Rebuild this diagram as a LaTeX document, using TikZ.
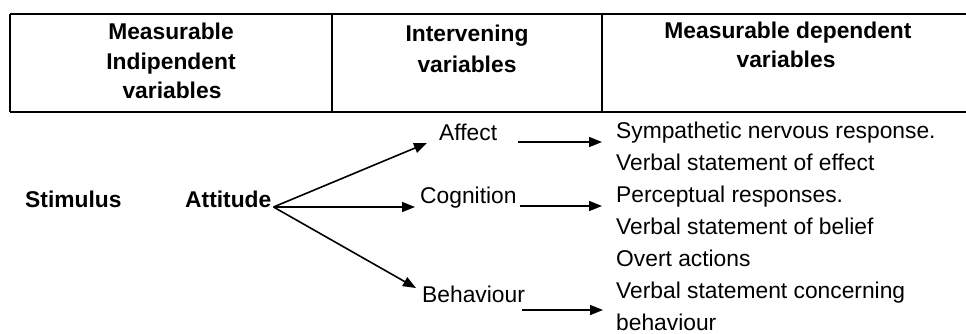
\documentclass[tikz,border=0pt]{standalone}
\usepackage{fontspec}
\setmainfont{Liberation Sans}
\usetikzlibrary{arrows.meta,calc}
\begin{document}
\begin{tikzpicture}[x=1pt,y=-1pt,
  txt/.style={inner sep=0pt, anchor=base west, font=\fontsize{22.8}{27}\selectfont},
  lbl/.style={inner sep=0pt, anchor=base west, font=\fontsize{22.8}{27}\selectfont\bfseries},
  hdr/.style={inner sep=0pt, anchor=base, font=\fontsize{22.8}{27}\selectfont\bfseries},
  rule/.style={line width=1.6pt},
  arr/.style={line width=1.6pt, -{Triangle[length=13pt,width=10pt]}}]
\useasboundingbox (0,0) rectangle (966,333);
% table frame
\draw[rule] (10,14) -- (966,14);
\draw[rule] (10,112) -- (966,112);
\draw[rule] (10,14) -- (10,112);
\draw[rule] (332,14) -- (332,112);
\draw[rule] (602,14) -- (602,112);
% headers
\node[hdr] (h1a) at (171,39) {Measurable};
\node[hdr] (h1b) at (171,69) {Indipendent};
\node[hdr] (h1c) at (172,98) {variables};
\node[hdr] (h2a) at (467,41) {Intervening};
\node[hdr] (h2b) at (467,72) {variables};
\node[hdr] (h3a) at (788,38) {Measurable dependent};
\node[hdr] (h3b) at (786,67) {variables};
% lower part
\node[lbl] (stim) at (25,207) {Stimulus};
\node[lbl] (att) at (185,207) {Attitude};
\node[txt] (aff) at (439,140) {Affect};
\node[txt] (cog) at (420,203) {Cognition};
\node[txt] (beh) at (422,302) {Behaviour};
\node[txt] (r1) at (616,138) {Sympathetic nervous response.};
\node[txt] (r2) at (616,170) {Verbal statement of effect};
\node[txt] (r3) at (616,202) {Perceptual responses.};
\node[txt] (r4) at (616,234) {Verbal statement of belief};
\node[txt] (r5) at (616,266) {Overt actions};
\node[txt] (r6) at (616,298) {Verbal statement concerning};
\node[txt] (r7) at (616,330) {behaviour};
% arrows
\draw[arr] ($(att.base east)+(2,0)$) -- ($(aff.base west)+(-12,3)$);
\draw[arr] ($(att.base east)+(2,0)$) -- ($(cog.base west)+(-5,4)$);
\draw[arr] ($(att.base east)+(2,0)$) -- ($(beh.base west)+(-6,-14)$);
\draw[arr] ($(aff.base east)+(21,2)$) -- ($(r1.base west)+(-14,4)$);
\draw[arr] ($(cog.base east)+(3,3)$) -- ($(r3.base west)+(-14,4)$);
\draw[arr] ($(beh.base east)+(-3,8)$) -- ($(r6.base west)+(-13,12)$);
\end{tikzpicture}
\end{document}
